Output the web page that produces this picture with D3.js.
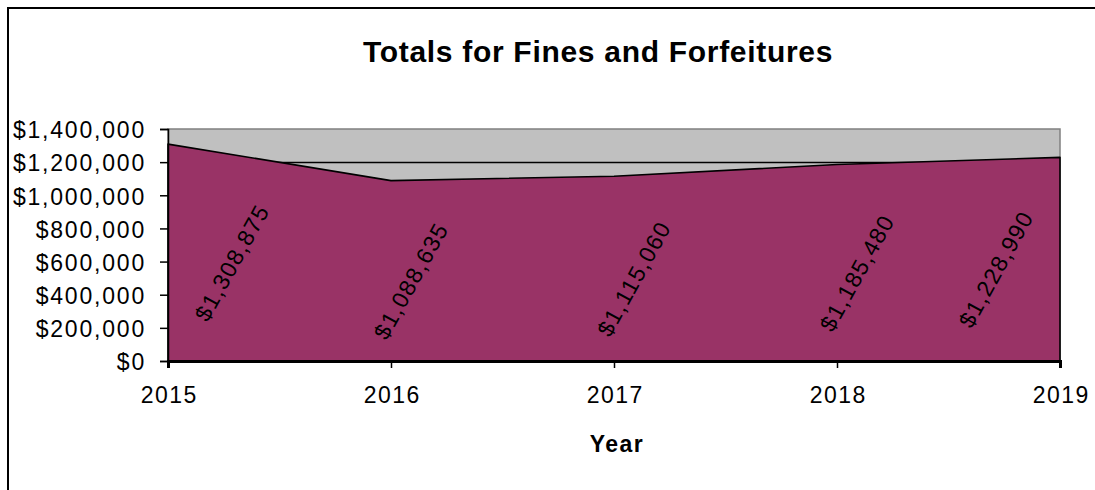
<!DOCTYPE html>
<html>
<head>
<meta charset="utf-8">
<script src="https://cdn.jsdelivr.net/npm/d3@7"></script>
<style>
  html, body { margin: 0; padding: 0; background: #fff; }
  svg { display: block; }
  text { font-family: "Liberation Sans", Arial, Helvetica, sans-serif; fill: #000; }
</style>
</head>
<body>
<svg id="chart" width="1095" height="490"></svg>
<script>
// Annual totals for fines and forfeitures
const years = [2015, 2016, 2017, 2018, 2019];
const totals = [1308875, 1088635, 1115060, 1185480, 1228990];
const yTicks = [0, 200000, 400000, 600000, 800000, 1000000, 1200000, 1400000];

const chartTitle = "Totals for Fines and Forfeitures";
const xTitle = "Year";

const svg = d3.select("#chart");
const plot = { left: 168, right: 1060, top: 129, bottom: 361 };
const fontStack = "'Liberation Sans', Arial, sans-serif";

// Outer chart frame
svg.append("rect")
  .attr("x", 8).attr("y", 8)
  .attr("width", 1200).attr("height", 600)
  .attr("fill", "#fff").attr("stroke", "#000").attr("stroke-width", 2);

const x = d3.scaleLinear().domain([years[0], years[years.length - 1]]).range([plot.left, plot.right]);
const y = d3.scaleLinear().domain([0, 1400000]).range([plot.bottom, plot.top]);

// Plot background
svg.append("rect")
  .attr("x", plot.left).attr("y", plot.top)
  .attr("width", plot.right - plot.left).attr("height", plot.bottom - plot.top)
  .attr("fill", "#C0C0C0").attr("stroke", "#808080").attr("stroke-width", 1.5);

// Horizontal gridlines
svg.append("g").selectAll("line")
  .data(yTicks.slice(1, -1))
  .join("line")
  .attr("x1", plot.left).attr("x2", plot.right)
  .attr("y1", d => Math.round(y(d)) + 0.5).attr("y2", d => Math.round(y(d)) + 0.5)
  .attr("stroke", "#000").attr("stroke-width", 1.3);

const data = years.map((yr, i) => ({ year: yr, value: totals[i] }));

// Filled area
const area = d3.area()
  .x(d => x(d.year))
  .y0(y(0))
  .y1(d => y(d.value));

svg.append("path")
  .datum(data)
  .attr("d", area)
  .attr("fill", "#993366")
  .attr("stroke", "#000")
  .attr("stroke-width", 1.6)
  .attr("stroke-linejoin", "round");

// Y axis
const yAxis = svg.append("g")
  .attr("transform", `translate(${plot.left},0)`)
  .call(d3.axisLeft(y).tickValues(yTicks).tickFormat(d3.format("$,")).tickSize(8).tickPadding(14));
yAxis.select(".domain").attr("stroke", "#000").attr("stroke-width", 1.5);
yAxis.selectAll(".tick line").attr("stroke", "#000").attr("stroke-width", 1.5);
yAxis.selectAll(".tick text")
  .attr("font-size", 23)
  .attr("letter-spacing", "1.8px")
  .attr("dy", "0.38em")
  .style("font-family", fontStack);

// X axis
const xAxis = svg.append("g")
  .attr("transform", `translate(0,${plot.bottom})`)
  .call(d3.axisBottom(x).tickValues(years).tickFormat(d3.format("d")).tickSize(7).tickPadding(19));
xAxis.select(".domain").attr("stroke", "#000").attr("stroke-width", 3);
xAxis.selectAll(".tick line").attr("stroke", "#000").attr("stroke-width", 1.5);
xAxis.selectAll(".tick text")
  .attr("font-size", 23)
  .attr("letter-spacing", "1.5px")
  .attr("dx", "0.75px")
  .style("font-family", fontStack);

// Rotated value labels inside the area
const fmt = d3.format("$,");
const labelPad = 64;
svg.append("g").selectAll("text")
  .data(data)
  .join("text")
  .attr("transform", d => {
    const cx = Math.max(plot.left + labelPad, Math.min(plot.right - labelPad, x(d.year) + 20));
    const cy = y(d.value / 2) + 10;
    return `translate(${cx},${cy}) rotate(-61)`;
  })
  .attr("text-anchor", "middle")
  .attr("dy", "0.35em")
  .attr("font-size", 23)
  .attr("letter-spacing", "1.4px")
  .text(d => fmt(d.value));

// Titles
svg.append("text")
  .attr("x", 598).attr("y", 62)
  .attr("text-anchor", "middle")
  .attr("font-size", 30)
  .attr("font-weight", "bold")
  .attr("letter-spacing", "0.7px")
  .text(chartTitle);

svg.append("text")
  .attr("x", 617).attr("y", 452)
  .attr("text-anchor", "middle")
  .attr("font-size", 23)
  .attr("font-weight", "bold")
  .attr("letter-spacing", "1.5px")
  .text(xTitle);
</script>
</body>
</html>
